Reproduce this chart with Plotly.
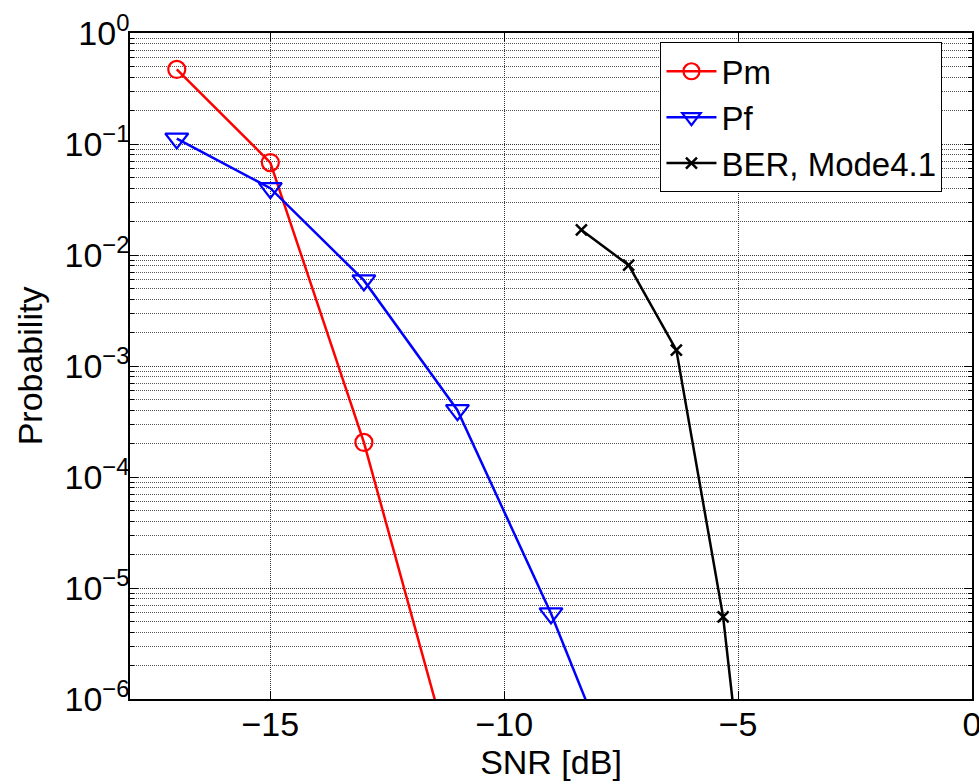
import plotly.graph_objects as go

# Data
snr_pm = [-17, -15, -13, -11]
pm = [0.47, 0.068, 2.05e-4, 1.8e-7]

snr_pf = [-17, -15, -13, -11, -9, -7]
pf = [0.112, 0.040, 5.9e-3, 4.0e-4, 5.9e-6, 4.7e-8]

snr_ber = [-8.35, -7.34, -6.32, -5.32, -4.31]
ber = [0.0168, 8.1e-3, 1.39e-3, 5.5e-6, 9e-10]

y_tickvals = [1e-6, 1e-5, 1e-4, 1e-3, 1e-2, 1e-1, 1e0]
y_ticktext = ["10<sup>\u22126</sup>", "10<sup>\u22125</sup>", "10<sup>\u22124</sup>",
              "10<sup>\u22123</sup>", "10<sup>\u22122</sup>", "10<sup>\u22121</sup>",
              "10<sup>0</sup>"]

FONT = "Liberation Sans, Arial, sans-serif"
FS = 34
GRID_DASH = "1px,1px"

fig = go.Figure()
fig.add_trace(go.Scatter(
    x=snr_pm, y=pm, name="Pm", mode="lines+markers",
    line=dict(color="#ff0000", width=2.5),
    marker=dict(symbol="circle-open", size=17, color="#ff0000", line=dict(width=2.2)),
))
fig.add_trace(go.Scatter(
    x=snr_pf, y=pf, name="Pf", mode="lines+markers",
    line=dict(color="#0000ff", width=2.5),
    marker=dict(symbol="triangle-down-open", size=20, color="#0000ff", line=dict(width=2.2)),
))
fig.add_trace(go.Scatter(
    x=snr_ber, y=ber, name="BER, Mode4.1", mode="lines+markers",
    line=dict(color="#000000", width=2.5),
    marker=dict(symbol="x-thin-open", size=11, color="#000000", line=dict(width=2.5, color="#000000")),
))

fig.update_layout(
    width=979, height=782,
    margin=dict(l=130, r=7, t=33, b=83),
    paper_bgcolor="white", plot_bgcolor="white",
    font=dict(family=FONT, size=FS, color="black"),
    showlegend=True,
    legend=dict(
        x=0.630, y=0.986, xanchor="left", yanchor="top",
        bgcolor="white", bordercolor="black", borderwidth=1,
        font=dict(size=33), tracegroupgap=0, itemwidth=50,
    ),
    xaxis=dict(
        range=[-18, 0], tick0=0, dtick=5, automargin=False,
        showline=True, linecolor="black", linewidth=1.5, mirror="ticks",
        ticks="inside", ticklen=8, tickcolor="black",
        ticklabelstandoff=-6, ticklabeloverflow="allow",
        showgrid=True, gridcolor="#333333", griddash=GRID_DASH, gridwidth=1,
        zeroline=False,
        title=dict(text="SNR [dB]", standoff=8, font=dict(size=FS)),
        tickfont=dict(size=FS),
    ),
    yaxis=dict(
        type="log", range=[-6, 0], automargin=False,
        tickvals=y_tickvals, ticktext=y_ticktext,
        showline=True, linecolor="black", linewidth=1.5, mirror="ticks",
        ticks="inside", ticklen=8, tickcolor="black",
        ticklabelstandoff=-8, ticklabeloverflow="allow",
        showgrid=True, gridcolor="#333333", griddash=GRID_DASH, gridwidth=1,
        minor=dict(tickmode="linear", dtick="D1", ticks="inside", ticklen=4, tickcolor="black",
                   showgrid=True, gridcolor="#555555", griddash=GRID_DASH, gridwidth=1),
        zeroline=False,
        title=dict(text="Probability", standoff=12, font=dict(size=FS)),
        tickfont=dict(size=FS),
    ),
)

fig.write_html("out.html", config={"displayModeBar": False},
               post_script="document.body.style.margin='0';")
